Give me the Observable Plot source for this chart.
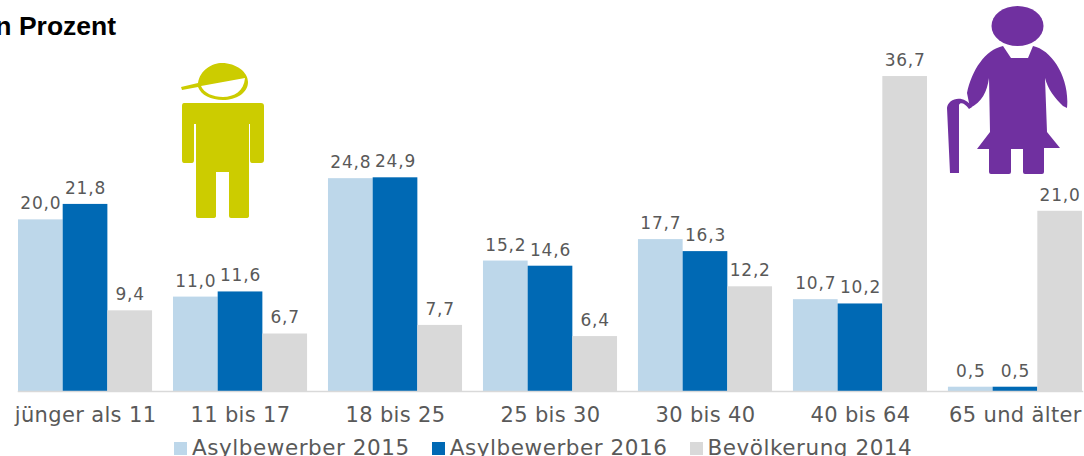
<!DOCTYPE html>
<html><head><meta charset="utf-8">
<script src="https://cdn.jsdelivr.net/npm/d3@7"></script>
<script src="https://cdn.jsdelivr.net/npm/@observablehq/plot@0.6"></script>
<style>
html,body{margin:0;padding:0;background:#fff;overflow:hidden;width:1084px;height:456px;position:relative}
#title{position:absolute;left:-12px;top:11px;font:bold 26.5px "Liberation Sans",Arial,sans-serif;color:#000;white-space:nowrap}
#chart{position:absolute;left:0;top:40px}
#legend{position:absolute;left:174px;top:437px;font:21.5px "DejaVu Sans",sans-serif;color:#595959;white-space:nowrap;letter-spacing:.55px;line-height:22px}
#legend span.k{display:inline-block;width:13px;height:13px;margin-right:5px}
#legend span.i{margin-right:22px}
.icon{position:absolute}
</style></head><body>
<div id="title">in Prozent</div>
<div id="chart"></div>
<div id="legend"></div>
<svg class="icon" style="left:178px;top:60px" width="90" height="162" viewBox="0 0 90 162">
<g fill="#cccc00">
<path fill-rule="evenodd" d="M3 27 L20 23 C22 10 34 3 44 3 C58 3 70 12 70 22 C70 33 58 40 45 40 C33 40 23 35 20 27 L4 30 Z M23 26 C26 33 35 37 45 37 C56 37 66 31 67 18 Z"/>
<path d="M6 43 H83 Q86 43 86 46 V100 Q86 103 83 103 H74 Q72 103 72 100 V64 H71 V156 Q71 158 68 158 H53 Q51 158 51 156 V112 H38 V156 Q38 158 35 158 H20 Q18 158 18 156 V64 H16 V100 Q16 103 14 103 H6 Q4 103 4 100 V46 Q4 43 6 43 Z"/>
</g></svg>
<svg class="icon" style="left:940px;top:0" width="144" height="180" viewBox="0 0 144 180">
<g fill="#7030a0">
<ellipse cx="77.5" cy="26" rx="26" ry="20"/>
<path d="M63 46 L71 58 H88 L93 46 C112 50 130 78 127 108 L123 106 C115 98 108 90 105 78 L107 132 L120 148 H104 V172 Q104 174 102 174 H85 Q83 174 83 172 V149 H71 V172 Q71 174 69 174 H51 Q49 174 49 172 V149 H37 L50 132 L49 78 C47 92 42 102 30 108 L27 93 C32 70 45 50 63 46 Z"/>
<path d="M10 173 L7 108 C8 98 24 94 32 107 L29 109 C25 103 20 102 19 105 L19 173 Z"/>
</g></svg>
<script>
const ages = ["jünger als 11","11 bis 17","18 bis 25","25 bis 30","30 bis 40","40 bis 64","65 und älter"];
const series = ["Asylbewerber 2015","Asylbewerber 2016","Bevölkerung 2014"];
const colors = ["#bdd7ea","#0069b4","#d9d9d9"];
const v2015 = [20.0,11.0,24.8,15.2,17.7,10.7,0.5];
const v2016 = [21.8,11.6,24.9,14.6,16.3,10.2,0.5];
const v2014 = [9.4,6.7,7.7,6.4,12.2,36.7,21.0];
const rows = ages.flatMap((a,i)=>[v2015,v2016,v2014].map((vs,j)=>({age:a,series:series[j],value:vs[i]})));
const fmt = d3.format(".1f");
const plot = Plot.plot({
  width:1084, height:386,
  marginTop:0, marginBottom:35, marginLeft:6, marginRight:0,
  style:{background:"transparent",overflow:"visible"},
  fx:{domain:ages, range:[18,1082], padding:0.135, round:false, label:null, axis:null},
  x:{domain:series, padding:0, round:false, axis:null},
  y:{domain:[0,40.9], axis:null},
  color:{domain:series, range:colors},
  marks:[
    Plot.barY(rows,{fx:"age",x:"series",y:"value",fill:"series"}),
    Plot.frame({anchor:"bottom",facet:"super",stroke:"#d9d9d9",strokeWidth:1.5}),
    Plot.text(rows,{fx:"age",x:"series",y:"value",text:d=>fmt(d.value).replace(".",","),dy:-16,fill:"#595959",fontSize:17,fontFamily:"DejaVu Sans"}),
    Plot.axisFx({anchor:"bottom",label:null,tickSize:0,tickPadding:16,fontSize:21,fontFamily:"DejaVu Sans",color:"#595959"})
  ]
});
d3.select(plot).selectAll("g[aria-label='text'] text").style("letter-spacing","0.8px");
d3.select(plot).selectAll("g[aria-label='fx-axis tick label'] text").style("letter-spacing","0.35px");
document.getElementById("chart").append(plot);
document.getElementById("legend").innerHTML = series.map((s,i)=>`<span class="k" style="background:${colors[i]}"></span><span class="i">${s}</span>`).join("");
</script></body></html>
